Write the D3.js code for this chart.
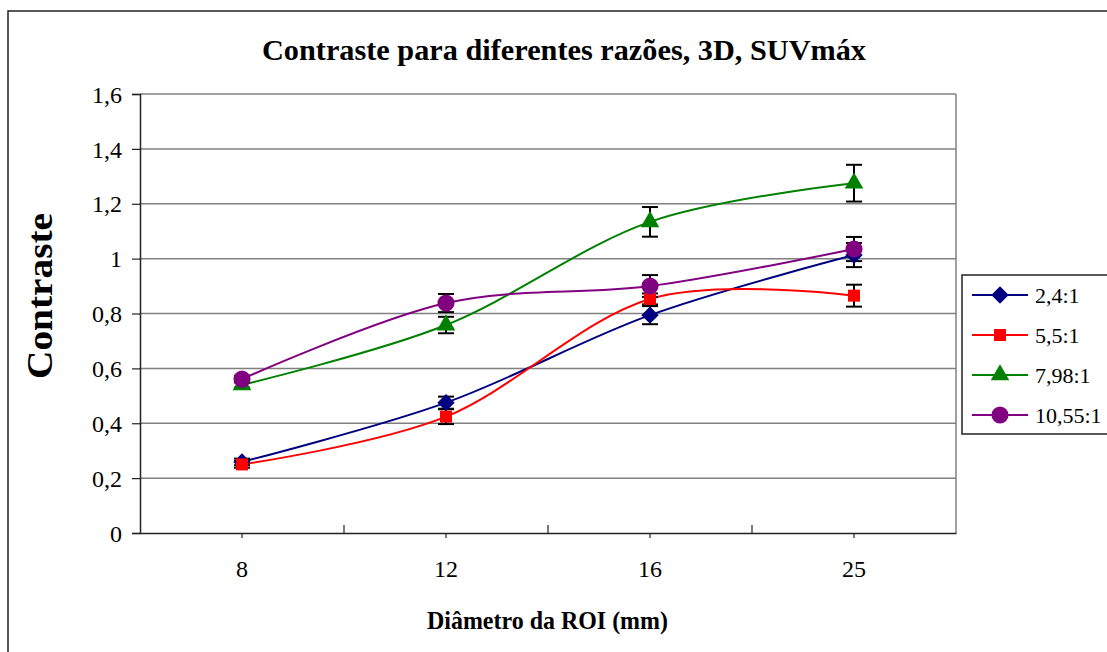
<!DOCTYPE html>
<html>
<head>
<meta charset="utf-8">
<script src="https://cdnjs.cloudflare.com/ajax/libs/d3/7.8.5/d3.min.js"></script>
<style>
  body { margin: 0; background: #fff; }
  text { font-family: "Liberation Serif", "Times New Roman", serif; fill: #000; }
</style>
</head>
<body>
<script>
// data
const categories = ['8', '12', '16', '25'];
const seriesNames = ['2,4:1', '5,5:1', '7,98:1', '10,55:1'];
const values24 = [0.259, 0.475, 0.794, 1.013];
const values55 = [0.25, 0.424, 0.853, 0.865];
const values798 = [0.54, 0.758, 1.134, 1.275];
const values1055 = [0.561, 0.838, 0.90, 1.035];
const errors24 = [0.012, 0.022, 0.033, 0.044];
const errors55 = [0.012, 0.027, 0.02, 0.04];
const errors798 = [0.01, 0.03, 0.054, 0.067];
const errors1055 = [0.012, 0.033, 0.04, 0.044];
const yTicks = [0, 0.2, 0.4, 0.6, 0.8, 1, 1.2, 1.4, 1.6];

const w = 1107;
const h = 652;
const padL = 140, padR = 956, padT = 94, padB = 533;

// excel style marker shapes (diamond = square turned 45deg)
const series = [
  { name: seriesNames[0], vals: values24, errs: errors24, color: '#000080', shape: d3.symbolSquare, size: 150, rot: 45 },
  { name: seriesNames[1], vals: values55, errs: errors55, color: '#ff0000', shape: d3.symbolSquare, size: 144, rot: 0 },
  { name: seriesNames[2], vals: values798, errs: errors798, color: '#008000', shape: d3.symbolTriangle, size: 150, rot: 0 },
  { name: seriesNames[3], vals: values1055, errs: errors1055, color: '#800080', shape: d3.symbolCircle, size: 230, rot: 0 }
];

const xScale = d3.scaleBand().domain(categories).range([padL, padR]).padding(0);
const xc = (c) => xScale(c) + xScale.bandwidth() / 2;
const yScale = d3.scaleLinear().domain([0, 1.6]).range([padB, padT]);
const fmt = (d) => String(d).replace('.', ',');

const svg = d3.select('body').append('svg')
  .attr('width', w)
  .attr('height', h);

// chart area border (right/bottom run off the picture)
svg.append('rect')
  .attr('x', 8).attr('y', 11)
  .attr('width', 1120).attr('height', 660)
  .attr('fill', 'none')
  .attr('stroke', '#222')
  .attr('stroke-width', 1.5);

// gridlines
svg.append('g')
  .selectAll('line')
  .data(yTicks.slice(1))
  .enter().append('line')
  .attr('x1', padL).attr('x2', padR)
  .attr('y1', (d) => yScale(d)).attr('y2', (d) => yScale(d))
  .attr('stroke', '#808080')
  .attr('stroke-width', 1.5);
svg.append('line')
  .attr('x1', padR).attr('x2', padR)
  .attr('y1', padT).attr('y2', padB)
  .attr('stroke', '#808080')
  .attr('stroke-width', 1.5);

// y axis
const yAxis = d3.axisLeft(yScale).tickValues(yTicks).tickFormat(fmt).tickSize(8).tickPadding(10);
const gy = svg.append('g')
  .attr('transform', 'translate(' + padL + ',0)')
  .call(yAxis);
gy.select('.domain').attr('stroke', '#222').attr('stroke-width', 1.5);
gy.selectAll('.tick line').attr('stroke', '#222').attr('stroke-width', 1.2);
gy.selectAll('.tick text')
  .style('font-family', '"Liberation Serif", "Times New Roman", serif')
  .style('font-size', '24px')
  .attr('dy', '0.34em');

// x axis
const xAxis = d3.axisBottom(xScale).tickSize(5).tickPadding(22).tickSizeOuter(0);
const gx = svg.append('g')
  .attr('transform', 'translate(0,' + padB + ')')
  .call(xAxis);
gx.select('.domain').attr('stroke', '#222').attr('stroke-width', 1.5);
gx.selectAll('.tick line').attr('stroke', '#222').attr('stroke-width', 1.2);
gx.selectAll('.tick text')
  .style('font-family', '"Liberation Serif", "Times New Roman", serif')
  .style('font-size', '24px');
// inner ticks between categories
svg.append('g')
  .selectAll('line')
  .data(categories.slice(1))
  .enter().append('line')
  .attr('x1', (d) => xScale(d)).attr('x2', (d) => xScale(d))
  .attr('y1', padB).attr('y2', padB - 8)
  .attr('stroke', '#222')
  .attr('stroke-width', 1.2);

// lines
const line = d3.line()
  .x((d) => xc(d.c))
  .y((d) => yScale(d.v))
  .curve(d3.curveCardinal.tension(0));

series.forEach((s) => {
  svg.append('path')
    .datum(categories.map((c, i) => ({ c: c, v: s.vals[i] })))
    .attr('d', line)
    .attr('fill', 'none')
    .attr('stroke', s.color)
    .attr('stroke-width', 2);
});

// error bars
series.forEach((s) => {
  const g = svg.append('g').attr('stroke', '#000').attr('stroke-width', 2);
  categories.forEach((c, i) => {
    const x = xc(c);
    const y1 = yScale(s.vals[i] + s.errs[i]);
    const y2 = yScale(s.vals[i] - s.errs[i]);
    g.append('line').attr('x1', x).attr('x2', x).attr('y1', y1).attr('y2', y2);
    g.append('line').attr('x1', x - 8).attr('x2', x + 8).attr('y1', y1).attr('y2', y1);
    g.append('line').attr('x1', x - 8).attr('x2', x + 8).attr('y1', y2).attr('y2', y2);
  });
});

// markers
series.forEach((s) => {
  svg.append('g')
    .selectAll('path')
    .data(categories.map((c, i) => ({ c: c, v: s.vals[i] })))
    .enter().append('path')
    .attr('d', d3.symbol().type(s.shape).size(s.size))
    .attr('transform', (d) => 'translate(' + xc(d.c) + ',' + yScale(d.v) + ') rotate(' + s.rot + ')')
    .attr('fill', s.color);
});

// titles
svg.append('text')
  .attr('x', 262).attr('y', 60)
  .attr('textLength', 604)
  .attr('lengthAdjust', 'spacingAndGlyphs')
  .style('font-size', '29px')
  .style('font-weight', 'bold')
  .text('Contraste para diferentes razões, 3D, SUVmáx');

svg.append('text')
  .attr('x', 427).attr('y', 629)
  .attr('textLength', 241)
  .attr('lengthAdjust', 'spacingAndGlyphs')
  .style('font-size', '25px')
  .style('font-weight', 'bold')
  .text('Diâmetro da ROI (mm)');

svg.append('text')
  .attr('transform', 'translate(52,379) rotate(-90)')
  .attr('textLength', 166)
  .attr('lengthAdjust', 'spacingAndGlyphs')
  .style('font-size', '35px')
  .style('font-weight', 'bold')
  .text('Contraste');

// legend
svg.append('rect')
  .attr('x', 962).attr('y', 275)
  .attr('width', 160).attr('height', 159)
  .attr('fill', '#fff')
  .attr('stroke', '#222')
  .attr('stroke-width', 1.5);

const legend = svg.append('g')
  .selectAll('g')
  .data(series)
  .enter().append('g')
  .attr('transform', (d, i) => 'translate(972,' + (295 + i * 40) + ')');
legend.append('line')
  .attr('x1', 0).attr('x2', 56)
  .attr('stroke', (d) => d.color)
  .attr('stroke-width', 2);
legend.append('path')
  .attr('d', (d) => d3.symbol().type(d.shape).size(d.size)())
  .attr('transform', (d) => 'translate(28,0) rotate(' + d.rot + ')')
  .attr('fill', (d) => d.color);
legend.append('text')
  .attr('x', 63).attr('y', 8)
  .style('font-size', '22px')
  .text((d) => d.name);
</script>
</body>
</html>
